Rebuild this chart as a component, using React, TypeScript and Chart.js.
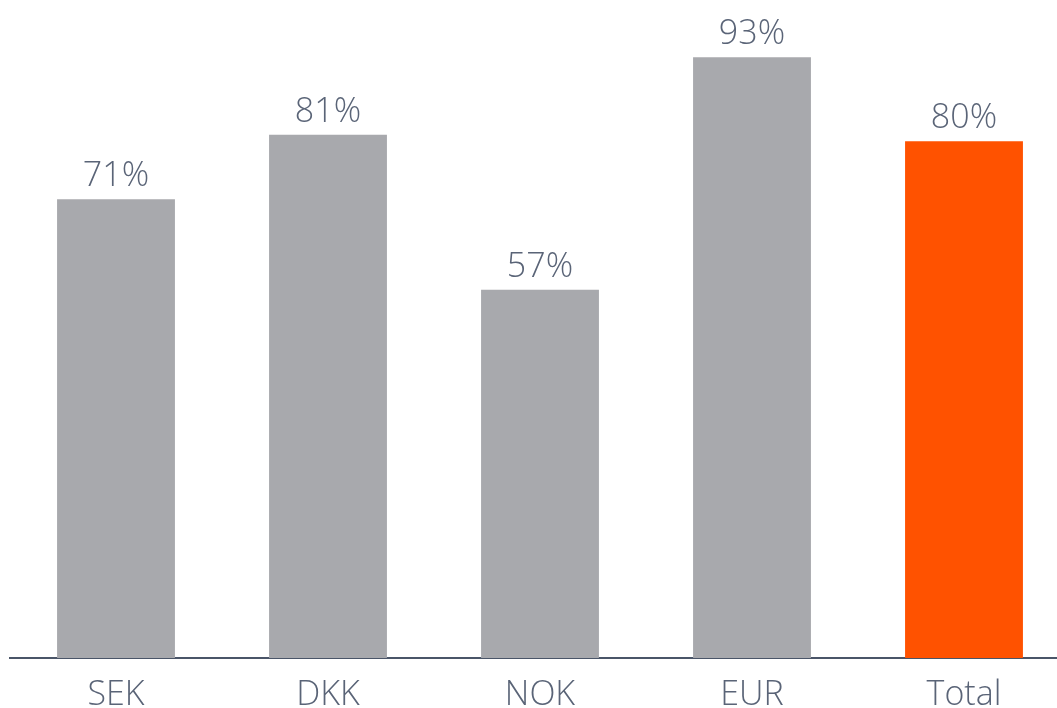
import React, { useEffect, useRef } from "react";
import { Chart, registerables } from "chart.js";

Chart.register(...registerables);

const categories = ["SEK", "DKK", "NOK", "EUR", "Total"];
const values = [71, 81, 57, 93, 80];
const barColors = ["#a8a9ad", "#a8a9ad", "#a8a9ad", "#a8a9ad", "#ff5200"];

const TEXT_COLOR = "#5a6477";
const FONT_FAMILY = "'Open Sans', 'Noto Sans', sans-serif";

const valueLabels = {
  id: "valueLabels",
  afterDatasetsDraw(chart: any) {
    const ctx = chart.ctx;
    const meta = chart.getDatasetMeta(0);
    ctx.save();
    ctx.fillStyle = TEXT_COLOR;
    ctx.font = `300 34px ${FONT_FAMILY}`;
    ctx.textAlign = "center";
    ctx.textBaseline = "alphabetic";
    meta.data.forEach((bar: any, i: number) => {
      ctx.fillText(`${values[i]}%`, bar.x, bar.y - 13);
    });
    ctx.restore();
  },
};

export default function App() {
  const ref = useRef<HTMLCanvasElement>(null);
  useEffect(() => {
    document.body.style.margin = "0";
    const chart = new Chart(ref.current!, {
      type: "bar",
      data: {
        labels: categories,
        datasets: [
          {
            data: values,
            backgroundColor: barColors,
            barPercentage: 0.556,
            categoryPercentage: 1,
          },
        ],
      },
      options: {
        animation: false,
        responsive: false,
        maintainAspectRatio: false,
        layout: { padding: { left: 10, right: 0, top: 12, bottom: 0 } },
        plugins: { legend: { display: false }, tooltip: { enabled: false } },
        scales: {
          y: { display: false, min: 0, max: 100 },
          x: {
            grid: { display: false, drawTicks: false },
            border: { display: true, color: "#4a5568", width: 2 },
            ticks: {
              color: TEXT_COLOR,
              font: { family: FONT_FAMILY, size: 34, weight: "300", lineHeight: 1 },
              padding: 20,
            },
          },
        },
      },
      plugins: [valueLabels],
    });
    return () => chart.destroy();
  }, []);
  return (
    <div style={{ width: 1057, height: 708, overflow: "hidden", position: "relative" }}>
      <canvas ref={ref} width={1070} height={732} style={{ display: "block" }} />
    </div>
  );
}
